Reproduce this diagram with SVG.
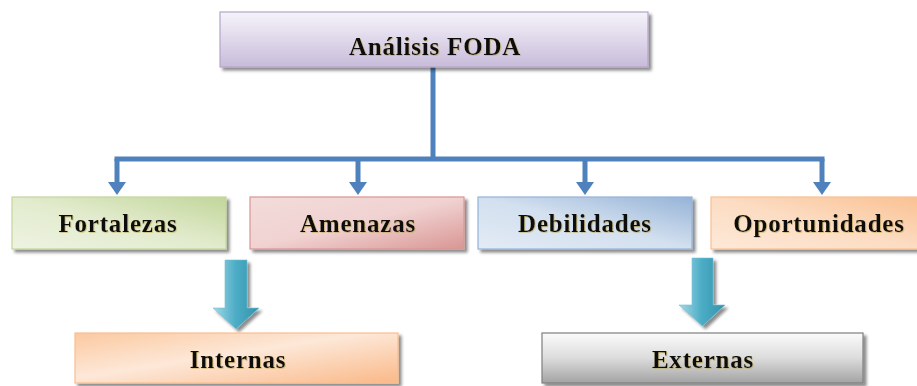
<svg xmlns="http://www.w3.org/2000/svg" width="917" height="386" viewBox="0 0 917 386">
<style>
.lbl{font-family:"Liberation Serif","Times New Roman",serif;font-weight:bold;font-size:25px;letter-spacing:0.8px;fill:#111;text-anchor:middle}
.conn{fill:none;stroke:#4f81bd;stroke-width:5}
.box{stroke-width:1.2}
</style>
<defs>
<filter id="sh" x="-10%" y="-20%" width="130%" height="160%">
<feDropShadow dx="3" dy="3" stdDeviation="1.4" flood-color="#000" flood-opacity="0.45"/>
</filter>
<filter id="tsh" x="-10%" y="-30%" width="120%" height="160%">
<feDropShadow dx="0.8" dy="0.8" stdDeviation="0.4" flood-color="#b8a24a" flood-opacity="0.6"/>
</filter>
<linearGradient id="gTop" x1="0" y1="0" x2="0" y2="1">
<stop offset="0" stop-color="#f6f3fa"/><stop offset="1" stop-color="#c8bcda"/>
</linearGradient>
<linearGradient id="gGreen" x1="0" y1="1" x2="1" y2="0">
<stop offset="0" stop-color="#eef3e2"/><stop offset="0.5" stop-color="#e2ebcd"/><stop offset="1" stop-color="#c2d69a"/>
</linearGradient>
<linearGradient id="gRed" x1="0" y1="0" x2="1" y2="1">
<stop offset="0" stop-color="#f2dcdb"/><stop offset="0.5" stop-color="#f0d2d1"/><stop offset="1" stop-color="#d99694"/>
</linearGradient>
<linearGradient id="gBlue" x1="0" y1="1" x2="1" y2="0">
<stop offset="0" stop-color="#e3ebf5"/><stop offset="0.5" stop-color="#d3e0ef"/><stop offset="1" stop-color="#95b3d7"/>
</linearGradient>
<linearGradient id="gOrange" x1="0" y1="1" x2="1" y2="0">
<stop offset="0" stop-color="#fde9d9"/><stop offset="0.5" stop-color="#fcdcc2"/><stop offset="1" stop-color="#fac090"/>
</linearGradient>
<linearGradient id="gOrange2" x1="0" y1="0" x2="1" y2="1">
<stop offset="0" stop-color="#fbc9a0"/><stop offset="0.45" stop-color="#fde8d8"/><stop offset="1" stop-color="#fab888"/>
</linearGradient>
<linearGradient id="gGray" x1="0" y1="0" x2="0" y2="1">
<stop offset="0" stop-color="#fbfbfb"/><stop offset="0.5" stop-color="#dcdcdc"/><stop offset="1" stop-color="#a3a3a3"/>
</linearGradient>
<linearGradient id="gArrow" x1="0" y1="0" x2="1" y2="0">
<stop offset="0" stop-color="#a5d8e6"/><stop offset="0.5" stop-color="#4bacc6"/><stop offset="1" stop-color="#3592ab"/>
</linearGradient>
<marker id="ah" markerUnits="userSpaceOnUse" markerWidth="14" markerHeight="18" viewBox="0 0 14 18" refX="0" refY="9" orient="auto">
<path d="M0,0 L13,9 L0,18 z" fill="#4f81bd"/>
</marker>
</defs>

<g id="connectors">
<path class="conn" d="M433,67 V159"/>
<path class="conn" d="M114.5,159 H824.5"/>
<path class="conn" d="M117,159 V182" marker-end="url(#ah)"/>
<path class="conn" d="M358,159 V182" marker-end="url(#ah)"/>
<path class="conn" d="M585,159 V182" marker-end="url(#ah)"/>
<path class="conn" d="M822,159 V182" marker-end="url(#ah)"/>
</g>

<g id="node-foda">
<rect class="box" x="220" y="12" width="428" height="55" fill="url(#gTop)" stroke="#b3a6c9" filter="url(#sh)"/>
<text class="lbl" x="435" y="55" filter="url(#tsh)">Análisis FODA</text>
</g>

<g id="node-fortalezas">
<rect class="box" x="12" y="197" width="214" height="52" fill="url(#gGreen)" stroke="#c3d69b" filter="url(#sh)"/>
<text class="lbl" x="118" y="232" filter="url(#tsh)">Fortalezas</text>
</g>

<g id="node-amenazas">
<rect class="box" x="250" y="197" width="214" height="52" fill="url(#gRed)" stroke="#d99694" filter="url(#sh)"/>
<text class="lbl" x="358" y="232" filter="url(#tsh)">Amenazas</text>
</g>

<g id="node-debilidades">
<rect class="box" x="478" y="197" width="214" height="52" fill="url(#gBlue)" stroke="#95b3d7" filter="url(#sh)"/>
<text class="lbl" x="585" y="232" filter="url(#tsh)">Debilidades</text>
</g>

<g id="node-oportunidades">
<rect class="box" x="711" y="197" width="214" height="52" fill="url(#gOrange)" stroke="#fac090" filter="url(#sh)"/>
<text class="lbl" x="819" y="232" filter="url(#tsh)">Oportunidades</text>
</g>

<g id="arrow-internas">
<path d="M225,260 H247 V308 H259 L236,329 L213,308 H225 Z" fill="url(#gArrow)" stroke="#6fbfd4" stroke-width="0.6" filter="url(#sh)"/>
</g>

<g id="arrow-externas">
<path d="M692,258 H713 V305 H725 L702.5,326 L679,305 H692 Z" fill="url(#gArrow)" stroke="#6fbfd4" stroke-width="0.6" filter="url(#sh)"/>
</g>

<g id="node-internas">
<rect class="box" x="75" y="333" width="323" height="50" fill="url(#gOrange2)" stroke="#f9be90" filter="url(#sh)"/>
<text class="lbl" x="238" y="368" filter="url(#tsh)">Internas</text>
</g>

<g id="node-externas">
<rect class="box" x="542" y="333" width="321" height="50" fill="url(#gGray)" stroke="#7f7f7f" filter="url(#sh)"/>
<text class="lbl" x="703" y="368" filter="url(#tsh)">Externas</text>
</g>
</svg>
